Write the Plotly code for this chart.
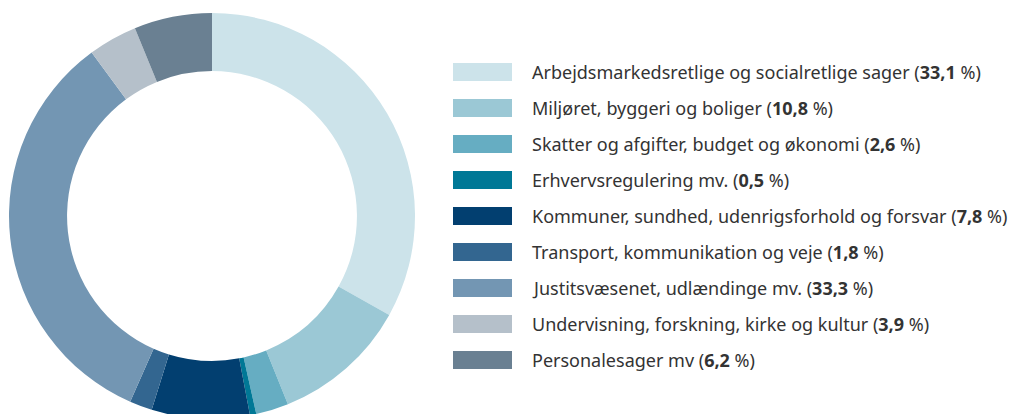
import plotly.graph_objects as go

categories = [
    "Arbejdsmarkedsretlige og socialretlige sager",
    "Miljøret, byggeri og boliger",
    "Skatter og afgifter, budget og økonomi",
    "Erhvervsregulering mv.",
    "Kommuner, sundhed, udenrigsforhold og forsvar",
    "Transport, kommunikation og veje",
    "Justitsvæsenet, udlændinge mv.",
    "Undervisning, forskning, kirke og kultur",
    "Personalesager mv",
]
values = [33.1, 10.8, 2.6, 0.5, 7.8, 1.8, 33.3, 3.9, 6.2]
value_labels = ["33,1", "10,8", "2,6", "0,5", "7,8", "1,8", "33,3", "3,9", "6,2"]
colors = ["#CCE3EA", "#9BC8D5", "#66ADC2", "#007896", "#023F70",
          "#336690", "#7396B3", "#B5C0CA", "#6A8092"]

W, H = 1015, 432
FONT = "Noto Sans"

fig = go.Figure()
fig.add_trace(go.Pie(
    labels=categories, values=values, hole=0.714,
    sort=False, direction="clockwise", rotation=0,
    marker=dict(colors=colors, line=dict(width=0)),
    textinfo="none", hoverinfo="label+percent", showlegend=False,
    domain=dict(x=[9 / W, 415 / W], y=[0, 1]),
))

# legend swatches as a bar trace on a hidden axis
fig.add_trace(go.Bar(
    y=categories, x=[1] * len(categories), orientation="h",
    marker=dict(color=colors, line=dict(width=0)), width=0.5,
    showlegend=False, hoverinfo="skip",
))

for cat, lab in zip(categories, value_labels):
    fig.add_annotation(
        x=1, y=cat, xref="x", yref="y", xanchor="left", yanchor="middle",
        xshift=18, showarrow=False,
        text=f"{cat} (<b>{lab}</b> %)",
        font=dict(family=FONT, size=18, color="#333333"),
    )

plot_h = H - 26
fig.update_layout(
    width=W, height=H,
    margin=dict(l=0, r=0, t=13, b=13),
    paper_bgcolor="white", plot_bgcolor="white",
    xaxis=dict(domain=[453 / W, 512 / W], range=[0, 1], visible=False, fixedrange=True),
    yaxis=dict(domain=[1 - (378 - 13) / plot_h, 1 - (54 - 13) / plot_h],
               range=[8.5, -0.5], visible=False, fixedrange=True,
               categoryorder="array", categoryarray=categories),
    font=dict(family=FONT),
)

fig.write_html(
    "out.html",
    config={"displayModeBar": False},
    post_script="document.body.style.margin='0';document.body.style.overflow='hidden';",
)
